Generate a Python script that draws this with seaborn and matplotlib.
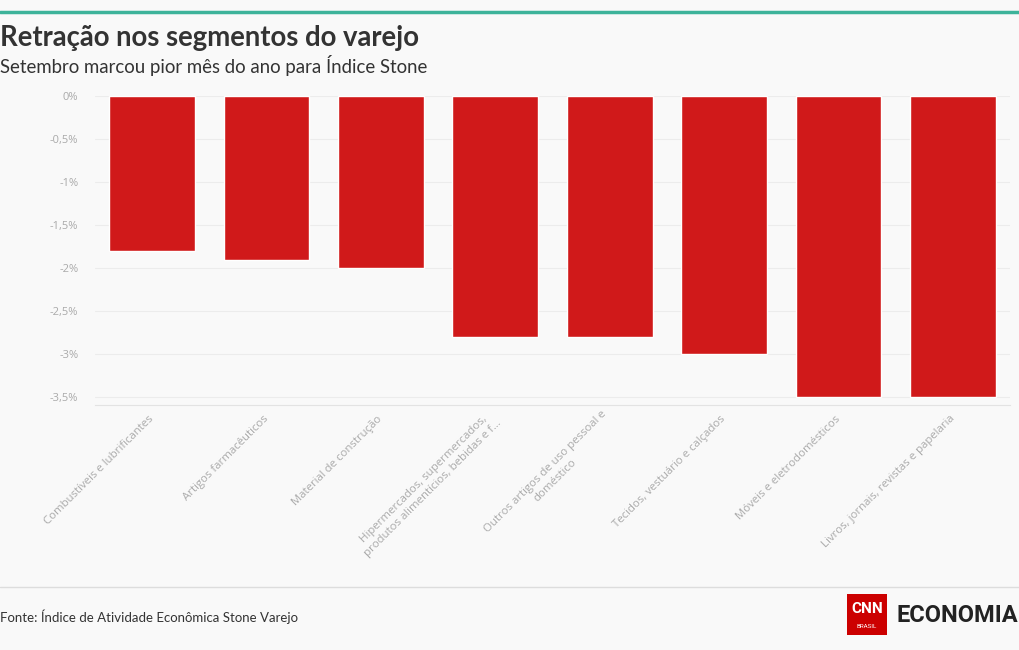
import matplotlib
matplotlib.use("Agg")
import matplotlib.pyplot as plt
from matplotlib.patches import Rectangle
from matplotlib.lines import Line2D
import seaborn as sns
import pandas as pd

categories = [
    "Combustíveis e lubrificantes",
    "Artigos farmacêuticos",
    "Material de construção",
    "Hipermercados, supermercados,\nprodutos alimentícios, bebidas e f…",
    "Outros artigos de uso pessoal e\ndoméstico",
    "Tecidos, vestuário e calçados",
    "Móveis e eletrodomésticos",
    "Livros, jornais, revistas e papelaria",
]
values = [-1.8, -1.9, -2.0, -2.8, -2.8, -3.0, -3.5, -3.5]
ytick_values = [0, -0.5, -1, -1.5, -2, -2.5, -3, -3.5]
ytick_labels = ["0%", "-0,5%", "-1%", "-1,5%", "-2%", "-2,5%", "-3%", "-3,5%"]

title = "Retração nos segmentos do varejo"
subtitle = "Setembro marcou pior mês do ano para Índice Stone"
source = "Fonte: Índice de Atividade Econômica Stone Varejo"

BG = "#f9f9f9"
RED = "#d0191a"
TEAL = "#3db39a"

sns.set_theme(style="white")
plt.rcParams["font.family"] = ["Open Sans", "DejaVu Sans"]

df = pd.DataFrame({"cat": categories, "val": values})

fig = plt.figure(figsize=(10.2, 6.5), dpi=100, facecolor=BG)
ax = fig.add_axes([95 / 1020, 1 - 405 / 650, (1010 - 95) / 1020, (405 - 96) / 650])
ax.set_facecolor(BG)

sns.barplot(data=df, x="cat", y="val", order=categories, color=RED,
            saturation=1, width=0.75, ax=ax)

ax.set_ylim(-3.59, 0)
ax.set_xlim(-0.5, 7.5)
ax.set_yticks(ytick_values)
ax.set_yticklabels(ytick_labels, color="#aaaaaa", fontsize=8)
ax.yaxis.grid(True, color="#ececec", linewidth=0.8)
ax.set_axisbelow(True)
ax.set_xlabel("")
ax.set_ylabel("")
for s in ["top", "right"]:
    ax.spines[s].set_visible(False)
ax.spines["left"].set_visible(False)
ax.spines["bottom"].set_color("#e3e3e3")
ax.spines["bottom"].set_linewidth(0.8)
ax.tick_params(axis="y", length=0, pad=12)
ax.tick_params(axis="x", length=5, color="#e3e3e3", width=0.8, pad=2)
ax.set_xticks(range(len(categories)))
ax.set_xticklabels(categories, rotation=45, ha="right", va="center",
                   rotation_mode="anchor", fontsize=8.2, color="#aaaaaa",
                   multialignment="center")
for lbl in ax.get_xticklabels():
    lbl.set_y(-0.008)

# decorations
fig.add_artist(Line2D([0, 1], [1 - 12 / 650, 1 - 12 / 650], color=TEAL, linewidth=2.5))
fig.text(0.0, 1 - 38 / 650, title, fontsize=19.8, fontweight="bold", color="#333333",
         va="center", ha="left", family=["Lato", "DejaVu Sans"])
fig.text(0.0, 1 - 65 / 650, subtitle, fontsize=13.4, color="#333333",
         va="center", ha="left", family=["Lato", "DejaVu Sans"])
fig.add_artist(Line2D([0, 1], [1 - 587 / 650, 1 - 587 / 650], color="#dddddd", linewidth=1))
fig.text(0.0, 1 - 617 / 650, source, fontsize=9.5, color="#333333",
         va="center", ha="left", family=["Lato", "DejaVu Sans"])

# logo
fig.add_artist(Rectangle((847 / 1020, 1 - 635 / 650), 40 / 1020, 41 / 650,
                         facecolor="#cc0000", edgecolor="none"))
fig.text(867 / 1020, 1 - 609 / 650, "CNN", fontsize=11, color="white", fontweight="bold",
         ha="center", va="center", family=["Roboto", "DejaVu Sans"])
fig.text(867 / 1020, 1 - 626 / 650, "BRASIL", fontsize=4.5, color="white",
         ha="center", va="center", family=["Roboto", "DejaVu Sans"])
fig.text(897 / 1020, 1 - 615 / 650, "ECONOMIA", fontsize=17, color="#222222",
         fontweight="bold", ha="left", va="center", family=["Roboto", "DejaVu Sans"],
         stretch="condensed")

fig.savefig("out.png", dpi=100, facecolor=BG)
